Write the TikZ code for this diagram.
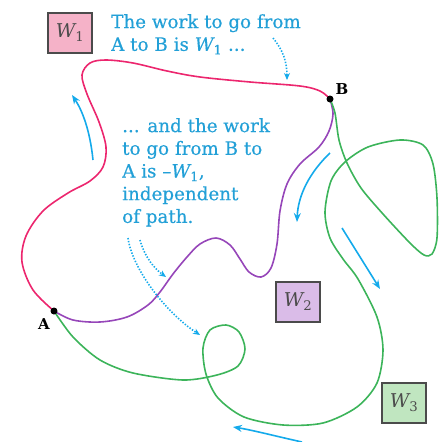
\documentclass[tikz,border=0pt]{standalone}
\usepackage{fontspec}
\setmainfont{DejaVu Serif}
\newfontfamily\notefont[FakeBold=0.4]{DejaVu Serif}
\usetikzlibrary{arrows.meta}
\definecolor{txtblue}{RGB}{35,160,215}
\definecolor{arrblue}{RGB}{20,170,235}
\definecolor{pinkc}{RGB}{236,38,110}
\definecolor{purplec}{RGB}{150,70,185}
\definecolor{greenc}{RGB}{60,180,90}
\definecolor{pinkfill}{RGB}{245,178,200}
\definecolor{purplefill}{RGB}{218,188,232}
\definecolor{greenfill}{RGB}{192,230,192}
\definecolor{boxedge}{RGB}{75,75,75}
\tikzset{
  pathline/.style={line width=1.6pt, line join=round, line cap=round},
  flowarrow/.style={arrblue, line width=1.6pt, -{Stealth[length=9pt,width=7pt]}},
  hintarrow/.style={arrblue, line width=1.6pt, dash pattern=on 1.4pt off 1.6pt, -{Stealth[length=7pt,width=6pt]}},
  wbox/.style={draw=boxedge, line width=1.5pt, minimum width=44pt, minimum height=40pt, inner sep=0pt, text=black!70, font=\fontsize{19}{19}\selectfont},
  note/.style={txtblue, align=left, inner sep=0pt, anchor=north west, font=\notefont\fontsize{18.3}{22.7}\selectfont},
  ptlabel/.style={font=\bfseries\fontsize{15}{15}\selectfont, inner sep=0pt},
  dotnode/.style={circle, fill=black, inner sep=0pt, minimum size=7pt}
}
\begin{document}
\begin{tikzpicture}[x=1pt,y=-1pt]
\useasboundingbox (0,0) rectangle (448,442);
\coordinate (A) at (54,311);
\coordinate (B) at (330,99);
% pink path W1
\draw[pathline, pinkc] plot[smooth, tension=0.55] coordinates {(A) (33,290) (22,262) (26,236) (43,211) (68,193) (90,181) (103,167) (106,147) (99,122) (87,94) (82,75) (90,63) (106,60) (133,63) (167,71) (200,77) (250,82) (300,86) (320,91) (B)};
% purple path W2
\draw[pathline, purplec] plot[smooth, tension=0.55] coordinates {(B) (333,114) (329,131) (319,147) (300,164) (287,184) (280,211) (277,244) (271,268) (261,277) (249,272) (240,259) (230,245) (216,238) (200,244) (187,257) (173,274) (160,292) (148,305) (127,317) (100,322) (73,320) (A)};
% green path W3
\draw[pathline, greenc] plot[smooth, tension=0.5] coordinates {(A) (73,337) (100,360) (133,373) (183,380) (217,375) (238,366) (245,349) (239,332) (226,325) (210,330) (203,348) (206,374) (218,398) (244,417) (283,425) (323,423) (357,407) (377,383) (383,350) (377,317) (358,279) (343,259) (330,238) (325,212) (331,181) (345,162) (368,147) (400,140) (423,145) (433,164) (437,198) (437,238) (432,254) (424,255) (410,243) (383,214) (361,188) (347,163) (339,140) (335,113) (B)};
% points
\node[dotnode] (Ad) at (A) {};
\node[dotnode] (Bd) at (B) {};
\node[ptlabel] (Al) at (44,324) {A};
\node[ptlabel] (Bl) at (342,89) {B};
% boxes
\node[wbox, fill=pinkfill] (W1) at (70,33) {\itshape W\textsubscript{\upshape 1}};
\node[wbox, fill=purplefill] (W2) at (298,302) {\itshape W\textsubscript{\upshape 2}};
\node[wbox, fill=greenfill] (W3) at (404,403) {\itshape W\textsubscript{\upshape 3}};
% notes
\node[note] (t1) at (111,14) {The work to go from\\A to B is {\itshape W}\textsubscript{1} ...};
\node[note] (t2) at (122,118) {... and the work\\to go from B to\\A is –{\itshape W}\textsubscript{1},\\independent\\of path.};
% hint arrows (dotted)
\draw[hintarrow] (273,38) .. controls (283,50) and (287,62) .. (287,80);
\draw[hintarrow] (128,238) .. controls (132,268) and (165,312) .. (200,335);
\draw[hintarrow] (140,240) .. controls (145,258) and (155,269) .. (166,277);
% flow arrows
\draw[flowarrow] (93,160) .. controls (90,130) and (82,110) .. (72,95);
\draw[flowarrow] (330,153) .. controls (310,172) and (298,195) .. (297,222);
\draw[flowarrow] (342,228) -- (380,289);
\draw[flowarrow] (302,442) .. controls (275,436) and (252,430) .. (233,427);
\end{tikzpicture}
\end{document}
